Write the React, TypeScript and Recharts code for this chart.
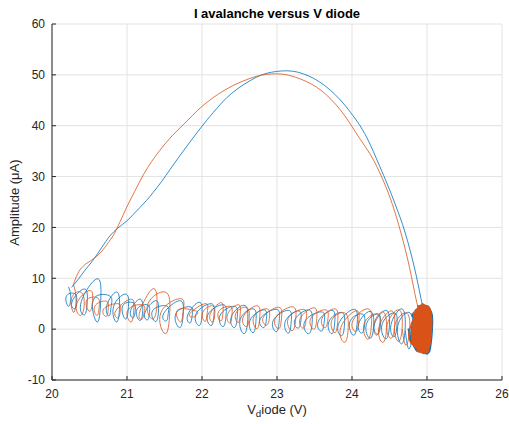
import { LineChart, Line, XAxis, YAxis, CartesianGrid } from "recharts";

type Pt = [number, number];

const xTicks = [20, 21, 22, 23, 24, 25, 26];
const yTicks = [-10, 0, 10, 20, 30, 40, 50, 60];

const blueArc: Pt[] = [
  [20.26, 8.2], [20.36, 10.0], [20.44, 11.6], [20.55, 13.6], [20.66, 16.0],
  [20.77, 18.3], [20.88, 19.9], [21.0, 21.3], [21.08, 22.5], [21.17, 23.9],
  [21.26, 25.3], [21.35, 26.9], [21.46, 29.0], [21.57, 31.3], [21.68, 33.6],
  [21.8, 36.0], [22.0, 39.9], [22.15, 42.6], [22.33, 45.5], [22.6, 48.5],
  [22.86, 50.3], [23.13, 50.8], [23.42, 49.8], [23.71, 47.0], [23.95, 43.2],
  [24.2, 37.6], [24.37, 32.0], [24.57, 24.8], [24.71, 18.9], [24.84, 11.6],
  [24.92, 6.0], [24.96, 3.0],
];

const orangeArc: Pt[] = [
  [20.28, 8.5], [20.32, 10.2], [20.37, 11.6], [20.45, 12.8], [20.51, 13.4],
  [20.6, 14.4], [20.68, 15.6], [20.75, 17.0], [20.82, 18.5], [20.91, 21.2],
  [21.0, 24.1], [21.1, 27.0], [21.22, 30.4], [21.33, 33.0], [21.44, 35.2],
  [21.6, 38.0], [21.75, 40.2], [22.0, 43.8], [22.28, 46.8], [22.55, 48.8],
  [22.86, 50.1], [23.0, 50.2], [23.31, 49.2], [23.6, 46.8], [23.84, 43.2],
  [24.08, 38.0], [24.33, 32.0], [24.57, 23.1], [24.77, 11.9], [24.86, 5.5],
  [24.9, 3.0],
];

// ringing loops along the bottom, one loop per row
const blueLoops: Pt[] = [
  [20.22, 8.3], [20.25, 6.4], [20.22, 4.5], [20.19, 6.4],
  [20.30, 7.0], [20.33, 5.5], [20.30, 4.0], [20.27, 5.5],
  [20.43, 7.9], [20.47, 5.4], [20.43, 2.8], [20.39, 5.4],
  [20.60, 9.9], [20.65, 5.7], [20.60, 1.4], [20.55, 5.7],
  [20.76, 6.6], [20.79, 4.6], [20.76, 2.6], [20.73, 4.6],
  [20.86, 7.3], [20.90, 4.4], [20.86, 1.4], [20.82, 4.4],
  [20.98, 6.9], [21.02, 4.5], [20.98, 2.0], [20.94, 4.5],
  [21.08, 5.2], [21.11, 3.7], [21.08, 2.2], [21.05, 3.7],
  [21.17, 5.9], [21.21, 3.8], [21.17, 1.7], [21.13, 3.8],
  [21.27, 4.8], [21.30, 3.3], [21.27, 1.8], [21.24, 3.3],
  [21.38, 5.6], [21.42, 3.6], [21.38, 1.5], [21.34, 3.6],
  [21.52, 4.6], [21.55, 3.1], [21.52, 1.6], [21.49, 3.1],
  [21.70, 5.6], [21.75, 3.0], [21.70, 0.3], [21.65, 3.0],
  [21.84, 4.4], [21.87, 2.8], [21.84, 1.2], [21.81, 2.8],
  [21.96, 5.3], [22.00, 3.0], [21.96, 0.7], [21.92, 3.0],
  [22.12, 5.0], [22.16, 2.9], [22.12, 0.7], [22.08, 2.9],
  [22.28, 4.8], [22.32, 2.7], [22.28, 0.5], [22.24, 2.7],
  [22.43, 4.5], [22.47, 2.4], [22.43, 0.3], [22.39, 2.4],
  [22.56, 4.7], [22.61, 1.9], [22.56, -0.9], [22.51, 1.9],
  [22.68, 4.0], [22.72, 1.7], [22.68, -0.7], [22.64, 1.7],
  [22.82, 3.8], [22.86, 2.1], [22.82, 0.3], [22.78, 2.1],
  [22.99, 3.9], [23.03, 1.7], [22.99, -0.5], [22.95, 1.7],
  [23.15, 3.7], [23.19, 1.5], [23.15, -0.8], [23.11, 1.5],
  [23.28, 3.6], [23.32, 1.9], [23.28, 0.2], [23.24, 1.9],
  [23.42, 3.8], [23.47, 1.5], [23.42, -0.9], [23.37, 1.5],
  [23.59, 3.4], [23.63, 1.5], [23.59, -0.4], [23.55, 1.5],
  [23.73, 3.7], [23.77, 1.4], [23.73, -0.9], [23.69, 1.4],
  [23.86, 3.3], [23.90, 1.0], [23.86, -1.3], [23.82, 1.0],
  [24.02, 3.9], [24.07, 1.4], [24.02, -1.2], [23.97, 1.4],
  [24.13, 3.0], [24.17, 1.1], [24.13, -0.8], [24.09, 1.1],
  [24.24, 3.5], [24.29, 0.9], [24.24, -1.8], [24.19, 0.9],
  [24.34, 3.0], [24.38, 1.0], [24.34, -1.0], [24.30, 1.0],
  [24.45, 3.7], [24.50, 0.9], [24.45, -1.9], [24.40, 0.9],
  [24.56, 3.2], [24.60, 0.9], [24.56, -1.5], [24.52, 0.9],
  [24.66, 4.0], [24.71, 0.6], [24.66, -2.9], [24.61, 0.6],
  [24.76, 3.3], [24.81, -0.3], [24.76, -3.9], [24.71, -0.3],
];

const orangeLoops: Pt[] = [
  [20.29, 8.6], [20.32, 6.0], [20.29, 3.3], [20.26, 6.0],
  [20.38, 7.3], [20.43, 5.0], [20.38, 2.7], [20.33, 5.0],
  [20.50, 7.6], [20.54, 5.6], [20.50, 3.5], [20.46, 5.6],
  [20.60, 6.2], [20.63, 4.5], [20.60, 2.7], [20.57, 4.5],
  [20.72, 5.5], [20.75, 4.0], [20.72, 2.5], [20.69, 4.0],
  [20.88, 5.0], [20.91, 3.6], [20.88, 2.2], [20.85, 3.6],
  [21.05, 5.9], [21.09, 3.7], [21.05, 1.4], [21.01, 3.7],
  [21.20, 4.8], [21.23, 3.4], [21.20, 2.0], [21.17, 3.4],
  [21.34, 7.9], [21.40, 5.0], [21.34, 2.0], [21.28, 5.0],
  [21.51, 7.3], [21.57, 3.2], [21.51, -0.9], [21.45, 3.2],
  [21.71, 6.0], [21.75, 3.7], [21.71, 1.4], [21.67, 3.7],
  [21.89, 3.7], [21.94, 3.1], [21.89, 2.4], [21.84, 3.1],
  [22.04, 5.0], [22.07, 3.3], [22.04, 1.5], [22.01, 3.3],
  [22.14, 4.6], [22.17, 3.0], [22.14, 1.4], [22.11, 3.0],
  [22.25, 5.2], [22.28, 3.4], [22.25, 1.6], [22.22, 3.4],
  [22.37, 4.5], [22.40, 2.9], [22.37, 1.2], [22.34, 2.9],
  [22.48, 4.8], [22.51, 3.1], [22.48, 1.3], [22.45, 3.1],
  [22.59, 4.3], [22.63, 2.4], [22.59, 0.5], [22.55, 2.4],
  [22.73, 4.6], [22.77, 2.4], [22.73, 0.1], [22.69, 2.4],
  [22.86, 4.0], [22.90, 2.4], [22.86, 0.8], [22.82, 2.4],
  [23.02, 4.3], [23.06, 2.2], [23.02, 0.1], [22.98, 2.2],
  [23.20, 4.4], [23.25, 2.1], [23.20, -0.3], [23.15, 2.1],
  [23.35, 3.9], [23.39, 2.1], [23.35, 0.2], [23.31, 2.1],
  [23.49, 4.2], [23.53, 2.1], [23.49, 0.0], [23.45, 2.1],
  [23.64, 3.8], [23.68, 2.1], [23.64, 0.3], [23.60, 2.1],
  [23.77, 4.0], [23.81, 1.7], [23.77, -0.7], [23.73, 1.7],
  [23.90, 3.2], [23.95, 0.3], [23.90, -2.6], [23.85, 0.3],
  [24.05, 3.6], [24.09, 1.6], [24.05, -0.5], [24.01, 1.6],
  [24.21, 4.0], [24.26, 1.0], [24.21, -2.0], [24.16, 1.0],
  [24.33, 3.0], [24.37, 0.9], [24.33, -1.2], [24.29, 0.9],
  [24.41, 3.4], [24.46, 0.4], [24.41, -2.6], [24.36, 0.4],
  [24.52, 3.6], [24.57, 0.9], [24.52, -1.8], [24.47, 0.9],
  [24.62, 3.8], [24.67, 0.7], [24.62, -2.4], [24.57, 0.7],
  [24.72, 3.2], [24.77, 0.0], [24.72, -3.2], [24.67, 0.0],
];

// dense knot near 25 V
const blueKnot: Pt[] = [
  [24.90, 4.5], [24.97, 0.0], [24.90, -4.3], [24.83, 0.0],
  [25.00, 4.2], [25.07, -0.3], [25.00, -4.9], [24.93, -0.3],
  [24.86, 3.9], [24.92, 0.0], [24.86, -3.8], [24.80, 0.0],
  [24.97, 4.7], [25.05, -0.1], [24.97, -4.8], [24.89, -0.1],
  [24.93, 4.4], [25.00, 0.1], [24.93, -4.2], [24.86, 0.1],
  [25.03, 3.8], [25.07, -0.2], [25.03, -4.5], [24.99, -0.2],
  [24.88, 4.6], [24.95, 0.1], [24.88, -4.4], [24.81, 0.1],
  [24.98, 4.1], [25.05, -0.3], [24.98, -4.7], [24.91, -0.3],
  [24.84, 3.6], [24.89, 0.0], [24.84, -3.4], [24.79, 0.0],
  [24.95, 4.8], [25.03, 0.0], [24.95, -4.6], [24.87, 0.0],
  [25.01, 4.3], [25.07, -0.2], [25.01, -4.8], [24.95, -0.2],
  [24.91, 4.2], [24.98, 0.0], [24.91, -4.1], [24.84, 0.0],
  [24.96, 4.5], [25.03, -0.1], [24.96, -4.6], [24.89, -0.1],
  [24.80, 3.0], [24.85, 0.1], [24.80, -2.8], [24.75, 0.1],
];

const orangeKnot: Pt[] = [
  [24.92, 4.8], [24.99, 0.1], [24.92, -4.6], [24.85, 0.1],
  [24.97, 4.5], [25.05, 0.2], [24.97, -4.2], [24.89, 0.2],
  [24.88, 4.2], [24.94, 0.1], [24.88, -4.0], [24.82, 0.1],
  [25.00, 4.6], [25.06, 0.0], [25.00, -4.7], [24.94, 0.0],
  [24.94, 5.0], [25.02, 0.3], [24.94, -4.5], [24.86, 0.3],
  [24.85, 3.8], [24.90, 0.2], [24.85, -3.5], [24.80, 0.2],
  [24.99, 4.3], [25.06, 0.0], [24.99, -4.4], [24.92, 0.0],
  [24.91, 4.7], [24.98, 0.2], [24.91, -4.3], [24.84, 0.2],
  [25.02, 3.5], [25.06, -0.1], [25.02, -3.8], [24.98, -0.1],
  [24.95, 4.9], [25.03, 0.0], [24.95, -4.8], [24.87, 0.0],
  [24.87, 4.0], [24.93, 0.2], [24.87, -3.7], [24.81, 0.2],
  [24.96, 4.4], [25.04, 0.1], [24.96, -4.1], [24.88, 0.1],
  [24.90, 4.6], [24.97, 0.0], [24.90, -4.5], [24.83, 0.0],
  [25.01, 4.0], [25.06, -0.1], [25.01, -4.2], [24.96, -0.1],
  [24.93, 4.8], [25.01, 0.2], [24.93, -4.4], [24.85, 0.2],
  [24.82, 3.3], [24.87, 0.1], [24.82, -3.0], [24.77, 0.1],
  [24.98, 4.5], [25.05, 0.0], [24.98, -4.6], [24.91, 0.0],
  [24.89, 4.3], [24.96, 0.1], [24.89, -4.0], [24.82, 0.1],
  [24.95, 3.8], [25.04, 0.1], [24.95, -3.6], [24.86, 0.1],
  [24.92, 4.6], [25.00, 0.1], [24.92, -4.3], [24.84, 0.1],
];

const BLUE = "#0072BD";
const ORANGE = "#D95319";
const AXIS = "#262626";

const rows = (pts: Pt[]) => pts.map(([x, y]) => ({ x, y }));

export default function App() {
  const font = "'Liberation Sans', Arial, sans-serif";
  return (
    <div
      style={{
        position: "absolute",
        left: 0,
        top: 0,
        width: 509,
        height: 424,
        background: "#fff",
        fontFamily: font,
      }}
    >
      <div
        style={{
          position: "absolute",
          left: 52,
          top: 6,
          width: 450,
          textAlign: "center",
          fontSize: 13,
          lineHeight: "15px",
          fontWeight: "bold",
          color: "#000",
        }}
      >
        I avalanche versus V diode
      </div>
      <LineChart width={509} height={424} margin={{ top: 24, right: 7, left: 0, bottom: 0 }}>
        <CartesianGrid stroke="#e3e3e3" />
        <XAxis
          type="number"
          dataKey="x"
          domain={[20, 26]}
          ticks={xTicks}
          interval={0}
          allowDataOverflow
          height={44}
          tickSize={-4}
          tickMargin={13}
          stroke={AXIS}
          tick={{ fill: AXIS, fontSize: 12, fontFamily: font }}
        />
        <YAxis
          type="number"
          domain={[-10, 60]}
          ticks={yTicks}
          interval={0}
          allowDataOverflow
          width={52}
          tickSize={-4}
          tickMargin={11}
          stroke={AXIS}
          tick={{ fill: AXIS, fontSize: 12, fontFamily: font }}
        />
        <Line data={rows(blueLoops)} dataKey="y" type="natural" stroke={BLUE} strokeWidth={0.8} dot={false} activeDot={false} isAnimationActive={false} />
        <Line data={rows(blueKnot)} dataKey="y" type="natural" stroke={BLUE} strokeWidth={1.4} dot={false} activeDot={false} isAnimationActive={false} />
        <Line data={rows(blueArc)} dataKey="y" type="monotone" stroke={BLUE} strokeWidth={0.8} dot={false} activeDot={false} isAnimationActive={false} />
        <Line data={rows(orangeLoops)} dataKey="y" type="natural" stroke={ORANGE} strokeWidth={0.8} dot={false} activeDot={false} isAnimationActive={false} />
        <Line data={rows(orangeKnot)} dataKey="y" type="natural" stroke={ORANGE} strokeWidth={1.4} dot={false} activeDot={false} isAnimationActive={false} />
        <Line data={rows(orangeArc)} dataKey="y" type="monotone" stroke={ORANGE} strokeWidth={0.8} dot={false} activeDot={false} isAnimationActive={false} />
      </LineChart>
      <div
        style={{
          position: "absolute",
          left: 52,
          top: 402,
          width: 450,
          textAlign: "center",
          fontSize: 13,
          lineHeight: "15px",
          color: AXIS,
        }}
      >
        V<sub style={{ fontSize: "75%", verticalAlign: "-0.3em", lineHeight: 0 }}>d</sub>iode (V)
      </div>
      <div
        style={{
          position: "absolute",
          left: 14 - 100,
          top: 202 - 7.5,
          width: 200,
          textAlign: "center",
          fontSize: 13,
          lineHeight: "15px",
          color: AXIS,
          transform: "rotate(-90deg)",
          transformOrigin: "center",
        }}
      >
        Amplitude (μA)
      </div>
    </div>
  );
}
